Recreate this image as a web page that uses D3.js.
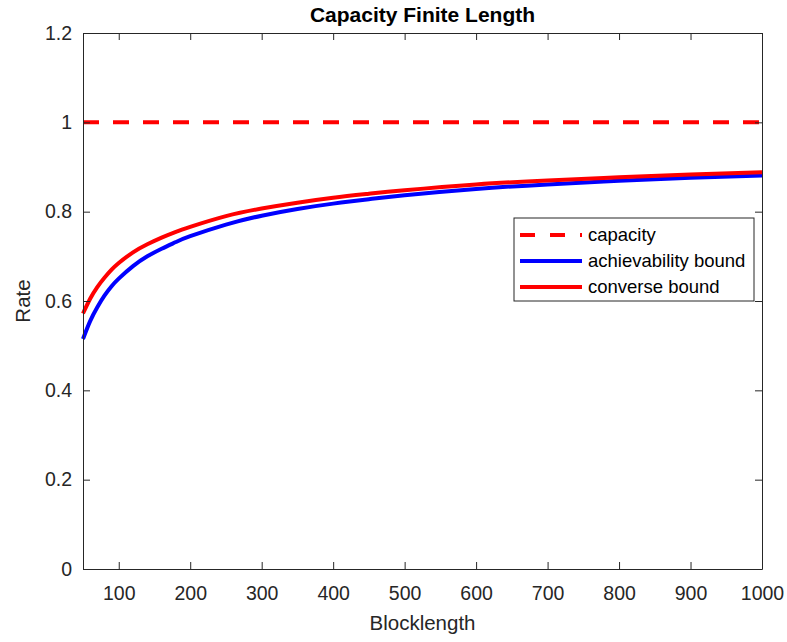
<!DOCTYPE html>
<html>
<head>
<script src="https://cdnjs.cloudflare.com/ajax/libs/d3/7.8.5/d3.min.js"></script>
<style>
    body { margin: 0; background: #fff; }
    svg { display: block; font-family: "Liberation Sans", Arial, sans-serif; }
    .axis path, .axis line { stroke: #262626; }
    .axis text { fill: #262626; }
</style>
</head>
<body>
<div id="chart"></div>
<script>
    // Data
    const blocklength = [50, 60, 70, 80, 90, 100, 120, 140, 160, 180, 200, 250, 300, 350, 400, 450, 500, 600, 700, 800, 900, 1000];
    const achievability = [0.515, 0.555, 0.586, 0.612, 0.633, 0.650, 0.678, 0.700, 0.717, 0.732, 0.745, 0.771, 0.791, 0.806, 0.818, 0.828, 0.837, 0.851, 0.861, 0.869, 0.876, 0.881];
    const converse = [0.572, 0.605, 0.631, 0.652, 0.670, 0.685, 0.709, 0.727, 0.742, 0.755, 0.766, 0.790, 0.807, 0.820, 0.831, 0.840, 0.848, 0.861, 0.870, 0.877, 0.883, 0.888];
    const capacity = 1;
    const xTicks = [100, 200, 300, 400, 500, 600, 700, 800, 900, 1000];
    const yTicks = [0, 0.2, 0.4, 0.6, 0.8, 1, 1.2];
    const seriesNames = ["capacity", "achievability bound", "converse bound"];

    const width = 787, height = 642;
    const margin = { left: 83, right: 25, top: 33, bottom: 73 };
    const plotW = width - margin.left - margin.right;
    const plotH = height - margin.top - margin.bottom;

    const svg = d3.select("#chart").append("svg")
        .attr("width", width)
        .attr("height", height);

    const x = d3.scaleLinear().domain([50, 1000]).range([0, plotW]);
    const y = d3.scaleLinear().domain([0, 1.2]).range([plotH, 0]);

    const g = svg.append("g").attr("transform", `translate(${margin.left},${margin.top})`);

    // lines
    const line = d3.line()
        .x(d => x(d[0]))
        .y(d => y(d[1]))
        .curve(d3.curveNatural);

    g.append("line")
        .attr("x1", x(50)).attr("x2", x(1000))
        .attr("y1", y(capacity)).attr("y2", y(capacity))
        .attr("stroke", "#ff0000")
        .attr("stroke-width", 4)
        .attr("stroke-dasharray", "16,14");

    g.append("path")
        .datum(blocklength.map((n, i) => [n, achievability[i]]))
        .attr("d", line)
        .attr("fill", "none")
        .attr("stroke", "#0000ff")
        .attr("stroke-width", 4);

    g.append("path")
        .datum(blocklength.map((n, i) => [n, converse[i]]))
        .attr("d", line)
        .attr("fill", "none")
        .attr("stroke", "#ff0000")
        .attr("stroke-width", 4);

    // axes (ticks inward, mirrored on top and right)
    const tickLen = 7;
    g.append("g").attr("class", "axis")
        .attr("transform", `translate(0,${plotH})`)
        .call(d3.axisBottom(x).tickValues(xTicks).tickSizeInner(-tickLen).tickSizeOuter(0).tickPadding(17)
            .tickFormat(d3.format("d")))
        .call(s => s.selectAll("text").attr("font-size", 19.5));
    g.append("g").attr("class", "axis")
        .call(d3.axisTop(x).tickValues(xTicks).tickSizeInner(-tickLen).tickSizeOuter(0).tickFormat(""));
    g.append("g").attr("class", "axis")
        .call(d3.axisLeft(y).tickValues(yTicks).tickSizeInner(-tickLen).tickSizeOuter(0).tickPadding(11)
            .tickFormat(d3.format("~g")))
        .call(s => s.selectAll("text").attr("font-size", 19.5));
    g.append("g").attr("class", "axis")
        .attr("transform", `translate(${plotW},0)`)
        .call(d3.axisRight(y).tickValues(yTicks).tickSizeInner(-tickLen).tickSizeOuter(0).tickFormat(""));
    g.selectAll(".axis path").attr("stroke-width", 1);

    // titles
    svg.append("text")
        .attr("x", margin.left + plotW / 2)
        .attr("y", 22)
        .attr("text-anchor", "middle")
        .attr("font-size", 21)
        .attr("font-weight", "bold")
        .attr("fill", "#000")
        .text("Capacity Finite Length");

    svg.append("text")
        .attr("x", margin.left + plotW / 2)
        .attr("y", 630)
        .attr("text-anchor", "middle")
        .attr("font-size", 20.5)
        .attr("fill", "#262626")
        .text("Blocklength");

    svg.append("text")
        .attr("transform", `translate(30,${margin.top + plotH / 2}) rotate(-90)`)
        .attr("text-anchor", "middle")
        .attr("font-size", 20.5)
        .attr("fill", "#262626")
        .text("Rate");

    // legend
    const leg = svg.append("g").attr("transform", "translate(514,218)");
    leg.append("rect")
        .attr("width", 240).attr("height", 83)
        .attr("fill", "#fff")
        .attr("stroke", "#262626")
        .attr("stroke-width", 1);
    const legStyles = [
        { color: "#ff0000", dash: "15,15" },
        { color: "#0000ff", dash: null },
        { color: "#ff0000", dash: null }
    ];
    seriesNames.forEach((name, i) => {
        const row = leg.append("g").attr("transform", `translate(0,${17 + i * 26})`);
        row.append("line")
            .attr("x1", 6).attr("x2", 68)
            .attr("stroke", legStyles[i].color)
            .attr("stroke-width", 4)
            .attr("stroke-dasharray", legStyles[i].dash);
        row.append("text")
            .attr("x", 74)
            .attr("dy", "0.35em")
            .attr("font-size", 18.5)
            .attr("fill", "#000")
            .text(name);
    });
</script>
</body>
</html>
